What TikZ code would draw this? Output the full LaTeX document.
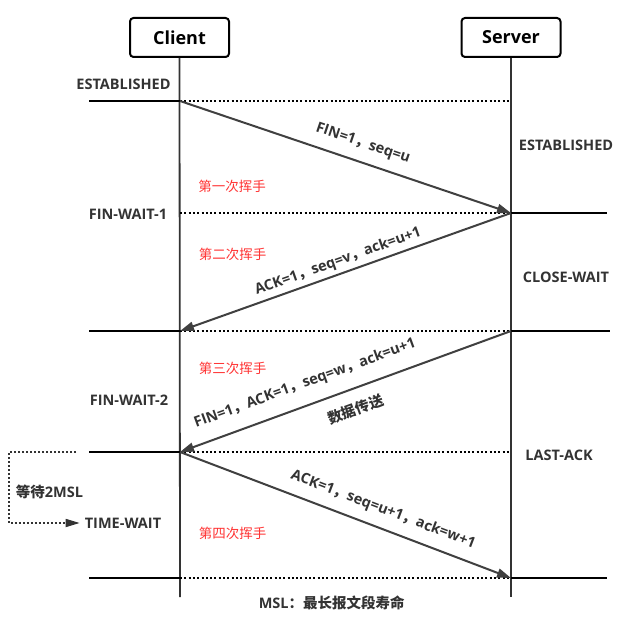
\documentclass[tikz,border=0pt]{standalone}
\usepackage{fontspec}
\setmainfont{Open Sans}
\newfontfamily\cjk{Noto Sans CJK SC}
\usetikzlibrary{arrows.meta}
\definecolor{txt}{HTML}{333333}
\definecolor{arr}{HTML}{404040}
\definecolor{handred}{HTML}{FF3333}
\newcommand\fwc{{\cjk ，}}
\tikzset{
  actor/.style={draw=black, line width=2pt, rounded corners=3.5pt, minimum width=99pt, minimum height=39pt, inner sep=0pt, font=\fontsize{18}{20}\selectfont\bfseries, text=black},
  life/.style={draw=txt, line width=1.8pt},
  solidline/.style={draw=black, line width=2pt},
  dotline/.style={draw=black, line width=2pt, dash pattern=on 2pt off 2.3pt},
  waitline/.style={draw=txt, line width=1.7pt, dash pattern=on 1.7pt off 2.3pt},
  msg/.style={draw=arr, line width=2pt, -{Triangle[length=14pt,width=9pt]}},
  state/.style={font=\fontsize{14.5}{16}\selectfont\bfseries, text=txt, inner sep=0pt},
  lab/.style={font=\fontsize{14.5}{16}\selectfont\bfseries, text=txt, inner sep=0pt, sloped},
  hand/.style={font=\cjk\fontsize{13.5}{15}\selectfont, text=handred, inner sep=0pt},
}
\begin{document}
\begin{tikzpicture}[x=1pt,y=-1pt]
\useasboundingbox[fill=white] (0,0) rectangle (621,620);
% actors
\node[actor] (client) at (179.5,37.5) {Client};
\node[actor] (server) at (511,37.5) {Server};
\coordinate (cend) at (180,597);
\coordinate (send) at (511,597);
\draw[life] (client.south) -- (cend);
\draw[life] (server.south) -- (send);
% rows
\foreach \n/\y in {1/101,2/213,3/331,4/452,5/578}{
  \coordinate (c\n) at (180,\y);
  \coordinate (s\n) at (511,\y);
  \coordinate (l\n) at (89,\y);
  \coordinate (r\n) at (607,\y);
}
\draw[solidline] (l1) -- (c1);
\draw[solidline] (l3) -- (c3);
\draw[solidline] (l4) -- (c4);
\draw[solidline] (l5) -- (c5);
\draw[solidline] (s2) -- (r2);
\draw[solidline] (s3) -- ([xshift=3pt]r3);
\draw[solidline] (s5) -- (r5);
\foreach \n in {1,...,5}{ \draw[dotline] (c\n) -- (s\n); }
% messages
\draw[msg] (c1) -- node[lab,above=10pt,pos=.535] {FIN=1\fwc seq=u} (s2);
\draw[msg] (s2) -- node[lab,above=4pt,pos=.51] {ACK=1\fwc seq=v\fwc ack=u+1} (c3);
\draw[msg] (s3) -- node[lab,above=13pt,pos=.60] {FIN=1\fwc ACK=1\fwc seq=w\fwc ack=u+1}
                   node[lab,below=12pt,pos=.49] {{\cjk\bfseries 数据传送}} (c4);
\draw[msg] (c4) -- node[lab,above=10pt,pos=.594] {ACK=1\fwc seq=u+1\fwc ack=w+1} (s5);
% states
\node[state] (est1) at (123.5,84.5) {ESTABLISHED};
\node[state] (est2) at (566,145) {ESTABLISHED};
\node[state] (fw1) at (128,214) {FIN-WAIT-1};
\node[state] (cw) at (566,277) {CLOSE-WAIT};
\node[state] (fw2) at (129,400) {FIN-WAIT-2};
\node[state] (la) at (559,455) {LAST-ACK};
\node[state] (timewait) at (123,523) {TIME-WAIT};
\node[state] (wait) at (49.5,492) {{\cjk\bfseries 等待}2MSL};
\node[state] (msl) at (331.7,603) {MSL{\cjk\bfseries ：}{\cjk 最长报文段寿命}};
% hand labels
\node[hand] (h1) at (232,186) {第一次挥手};
\node[hand] (h2) at (232.5,254) {第二次挥手};
\node[hand] (h3) at (232.6,368) {第三次挥手};
\node[hand] (h4) at (232.6,533) {第四次挥手};
% wait 2MSL
\coordinate (w1) at (76,452);
\coordinate (wc) at (9,452);
\draw[waitline,-{Triangle[length=14pt,width=8pt]}] (w1) -- (wc) |- ([xshift=-5pt]timewait.west);
\end{tikzpicture}
\end{document}
